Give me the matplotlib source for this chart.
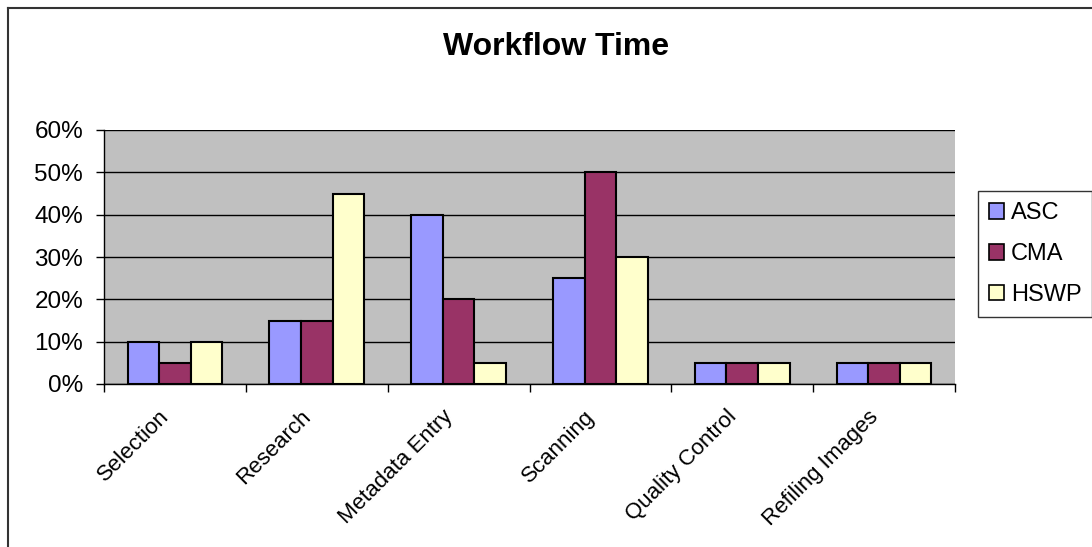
import matplotlib
matplotlib.use("Agg")
import matplotlib.pyplot as plt
import numpy as np
from matplotlib.lines import Line2D
from matplotlib.patches import Patch
from matplotlib.ticker import FuncFormatter
from matplotlib.transforms import ScaledTranslation

plt.rcParams["font.family"] = ["Liberation Sans", "DejaVu Sans"]

categories = ["Selection", "Research", "Metadata Entry", "Scanning",
              "Quality Control", "Refiling Images"]
series_names = ["ASC", "CMA", "HSWP"]
asc = [10, 15, 40, 25, 5, 5]
cma = [5, 15, 20, 50, 5, 5]
hswp = [10, 45, 5, 30, 5, 5]
colors = ["#9999FF", "#993366", "#FFFFCC"]

fig = plt.figure(figsize=(10.92, 5.47), dpi=100)
ax = fig.add_axes([104 / 1092, 1 - 384 / 547, (955 - 104) / 1092, (384 - 130) / 547])
ax.set_facecolor("#C0C0C0")

x = np.arange(len(categories)) + 0.5
w = 1 / 4.5
for k, (vals, col, name) in enumerate(zip([asc, cma, hswp], colors, series_names)):
    ax.bar(x + (k - 1) * w, np.array(vals) / 100, w, color=col,
           edgecolor="black", linewidth=1.5, zorder=3, label=name)

ax.set_xlim(0, len(categories))
ax.set_ylim(0, 0.6)
ax.set_yticks(np.arange(0, 0.61, 0.1))
ax.yaxis.set_major_formatter(FuncFormatter(lambda v, p: f"{v * 100:.0f}%"))
ax.yaxis.grid(True, color="black", linewidth=1.0, zorder=1)
ax.set_axisbelow(True)

# ticks sit between categories, labels at category centres
ax.set_xticks(np.arange(len(categories) + 1))
ax.set_xticklabels([])
ax.set_xticks(x, minor=True)
ax.set_xticklabels(categories, minor=True, rotation=45, ha="right",
                   rotation_mode="anchor", fontsize=16)
ax.tick_params(axis="x", which="minor", length=0, pad=16)
ax.tick_params(axis="x", which="major", direction="out", length=6, width=1.0)
ax.tick_params(axis="y", direction="out", length=6, width=1.0, labelsize=17.5, pad=9)

# nudge the rotated labels a little to the left
shift = ScaledTranslation(-0.16, 0, fig.dpi_scale_trans)
for lbl in ax.get_xticklabels(minor=True):
    lbl.set_transform(lbl.get_transform() + shift)

for s in ["top", "right"]:
    ax.spines[s].set_visible(False)
ax.spines["left"].set_linewidth(1.0)
ax.spines["bottom"].set_linewidth(1.0)

fig.text(556 / 1092, 1 - 47 / 547, "Workflow Time", ha="center", va="center",
         fontsize=23, fontweight="bold")

handles = [Patch(facecolor=c, edgecolor="black", linewidth=1.2) for c in colors]
leg = fig.legend(handles, series_names, loc="center left",
                 bbox_to_anchor=(978 / 1092, 1 - 254 / 547), fontsize=17,
                 frameon=True, fancybox=False, edgecolor="black",
                 handlelength=0.65, handleheight=0.65, handletextpad=0.3,
                 labelspacing=0.8, borderpad=0.45, borderaxespad=0)
leg.get_frame().set_linewidth(1.0)

# chart area border
fig.add_artist(Line2D([8 / 1092, 8 / 1092], [0, 1 - 7.5 / 547],
                      transform=fig.transFigure, color="#333333", linewidth=1.5))
fig.add_artist(Line2D([8 / 1092, 1], [1 - 7.5 / 547, 1 - 7.5 / 547],
                      transform=fig.transFigure, color="#333333", linewidth=1.5))

fig.savefig("out.png", dpi=100, facecolor="white")
